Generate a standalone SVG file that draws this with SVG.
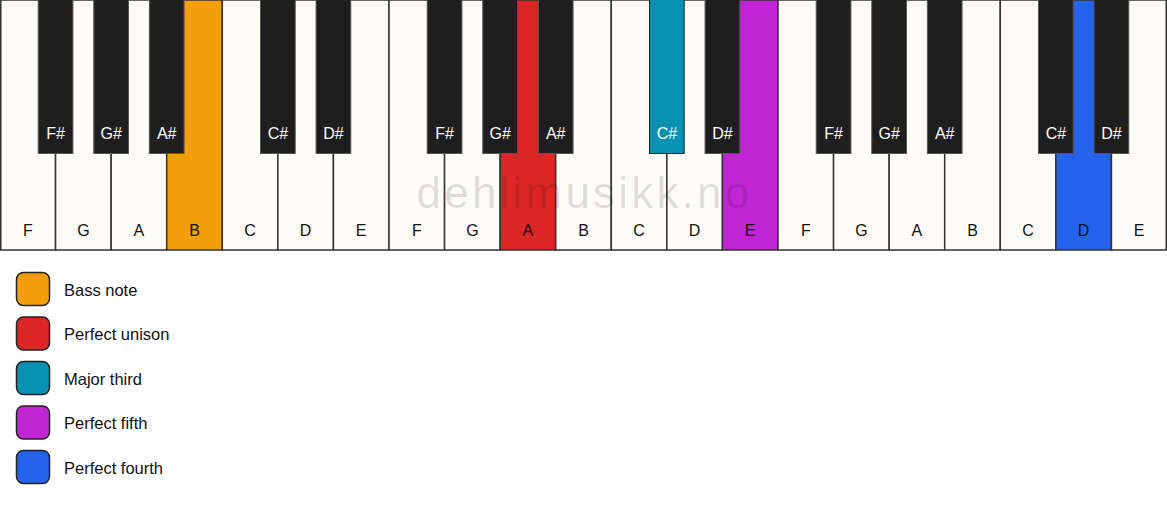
<svg xmlns="http://www.w3.org/2000/svg" width="1167" height="506" viewBox="0 0 1167 506">
<style>
.w{fill:#fdfcf8;stroke:#333;stroke-width:1.5}
.b{fill:#1e1e1e;stroke:#555;stroke-width:1}
.wl{font-family:"Liberation Sans",Arial,sans-serif;font-size:16px;fill:#111;text-anchor:middle}
.bl{font-family:"Liberation Sans",Arial,sans-serif;font-size:16px;fill:#fff;text-anchor:middle}
.lg{stroke:#222;stroke-width:1.5}
.lt{font-family:"Liberation Sans",Arial,sans-serif;font-size:16.5px;fill:#111}
.wm{font-family:"Liberation Sans",Arial,sans-serif;font-size:44px;fill:#000;fill-opacity:0.12;text-anchor:middle;letter-spacing:3.2px}
</style>
<rect width="1167" height="506" fill="#fff"/>
<g id="white-keys">
<g id="w0"><rect class="w" x="0.75" y="0" width="54.82" height="250"/><text class="wl" x="27.79" y="236">F</text></g>
<g id="w1"><rect class="w" x="55.57" y="0" width="55.57" height="250"/><text class="wl" x="83.36" y="236">G</text></g>
<g id="w2"><rect class="w" x="111.14" y="0" width="55.57" height="250"/><text class="wl" x="138.93" y="236">A</text></g>
<g id="w3"><rect class="w" x="166.71" y="0" width="55.57" height="250" style="fill:#f59e0b"/><text class="wl" x="194.5" y="236">B</text></g>
<g id="w4"><rect class="w" x="222.29" y="0" width="55.57" height="250"/><text class="wl" x="250.07" y="236">C</text></g>
<g id="w5"><rect class="w" x="277.86" y="0" width="55.57" height="250"/><text class="wl" x="305.64" y="236">D</text></g>
<g id="w6"><rect class="w" x="333.43" y="0" width="55.57" height="250"/><text class="wl" x="361.21" y="236">E</text></g>
<g id="w7"><rect class="w" x="389" y="0" width="55.57" height="250"/><text class="wl" x="416.79" y="236">F</text></g>
<g id="w8"><rect class="w" x="444.57" y="0" width="55.57" height="250"/><text class="wl" x="472.36" y="236">G</text></g>
<g id="w9"><rect class="w" x="500.14" y="0" width="55.57" height="250" style="fill:#dc2626"/><text class="wl" x="527.93" y="236">A</text></g>
<g id="w10"><rect class="w" x="555.71" y="0" width="55.57" height="250"/><text class="wl" x="583.5" y="236">B</text></g>
<g id="w11"><rect class="w" x="611.29" y="0" width="55.57" height="250"/><text class="wl" x="639.07" y="236">C</text></g>
<g id="w12"><rect class="w" x="666.86" y="0" width="55.57" height="250"/><text class="wl" x="694.64" y="236">D</text></g>
<g id="w13"><rect class="w" x="722.43" y="0" width="55.57" height="250" style="fill:#c026d3"/><text class="wl" x="750.21" y="236">E</text></g>
<g id="w14"><rect class="w" x="778" y="0" width="55.57" height="250"/><text class="wl" x="805.79" y="236">F</text></g>
<g id="w15"><rect class="w" x="833.57" y="0" width="55.57" height="250"/><text class="wl" x="861.36" y="236">G</text></g>
<g id="w16"><rect class="w" x="889.14" y="0" width="55.57" height="250"/><text class="wl" x="916.93" y="236">A</text></g>
<g id="w17"><rect class="w" x="944.71" y="0" width="55.57" height="250"/><text class="wl" x="972.5" y="236">B</text></g>
<g id="w18"><rect class="w" x="1000.29" y="0" width="55.57" height="250"/><text class="wl" x="1028.07" y="236">C</text></g>
<g id="w19"><rect class="w" x="1055.86" y="0" width="55.57" height="250" style="fill:#2563eb"/><text class="wl" x="1083.64" y="236">D</text></g>
<g id="w20"><rect class="w" x="1111.43" y="0" width="54.82" height="250"/><text class="wl" x="1139.21" y="236">E</text></g>
</g>
<g id="watermark"><text class="wm" x="584.5" y="208">dehlimusikk.no</text></g>
<g id="black-keys">
<g id="b0"><rect class="b" x="38.22" y="-1" width="34.7" height="154.5"/><text class="bl" x="55.57" y="139">F#</text></g>
<g id="b1"><rect class="b" x="93.79" y="-1" width="34.7" height="154.5"/><text class="bl" x="111.14" y="139">G#</text></g>
<g id="b2"><rect class="b" x="149.36" y="-1" width="34.7" height="154.5"/><text class="bl" x="166.71" y="139">A#</text></g>
<g id="b3"><rect class="b" x="260.51" y="-1" width="34.7" height="154.5"/><text class="bl" x="277.86" y="139">C#</text></g>
<g id="b4"><rect class="b" x="316.08" y="-1" width="34.7" height="154.5"/><text class="bl" x="333.43" y="139">D#</text></g>
<g id="b5"><rect class="b" x="427.22" y="-1" width="34.7" height="154.5"/><text class="bl" x="444.57" y="139">F#</text></g>
<g id="b6"><rect class="b" x="482.79" y="-1" width="34.7" height="154.5"/><text class="bl" x="500.14" y="139">G#</text></g>
<g id="b7"><rect class="b" x="538.36" y="-1" width="34.7" height="154.5"/><text class="bl" x="555.71" y="139">A#</text></g>
<g id="b8"><rect class="b" x="649.51" y="-1" width="34.7" height="154.5" style="fill:#0891b2;stroke:#222"/><text class="bl" x="666.86" y="139">C#</text></g>
<g id="b9"><rect class="b" x="705.08" y="-1" width="34.7" height="154.5"/><text class="bl" x="722.43" y="139">D#</text></g>
<g id="b10"><rect class="b" x="816.22" y="-1" width="34.7" height="154.5"/><text class="bl" x="833.57" y="139">F#</text></g>
<g id="b11"><rect class="b" x="871.79" y="-1" width="34.7" height="154.5"/><text class="bl" x="889.14" y="139">G#</text></g>
<g id="b12"><rect class="b" x="927.36" y="-1" width="34.7" height="154.5"/><text class="bl" x="944.71" y="139">A#</text></g>
<g id="b13"><rect class="b" x="1038.51" y="-1" width="34.7" height="154.5"/><text class="bl" x="1055.86" y="139">C#</text></g>
<g id="b14"><rect class="b" x="1094.08" y="-1" width="34.7" height="154.5"/><text class="bl" x="1111.43" y="139">D#</text></g>
</g>
<g id="legend">
<g id="lg-bass"><rect class="lg" x="16.5" y="272.5" width="33" height="33" rx="7" fill="#f59e0b"/><text class="lt" x="64" y="296">Bass note</text></g>
<g id="lg-unison"><rect class="lg" x="16.5" y="317" width="33" height="33" rx="7" fill="#dc2626"/><text class="lt" x="64" y="340.3">Perfect unison</text></g>
<g id="lg-third"><rect class="lg" x="16.5" y="361.5" width="33" height="33" rx="7" fill="#0891b2"/><text class="lt" x="64" y="384.8">Major third</text></g>
<g id="lg-fifth"><rect class="lg" x="16.5" y="406" width="33" height="33" rx="7" fill="#c026d3"/><text class="lt" x="64" y="429.3">Perfect fifth</text></g>
<g id="lg-fourth"><rect class="lg" x="16.5" y="450.5" width="33" height="33" rx="7" fill="#2563eb"/><text class="lt" x="64" y="473.8">Perfect fourth</text></g>
</g>
</svg>
